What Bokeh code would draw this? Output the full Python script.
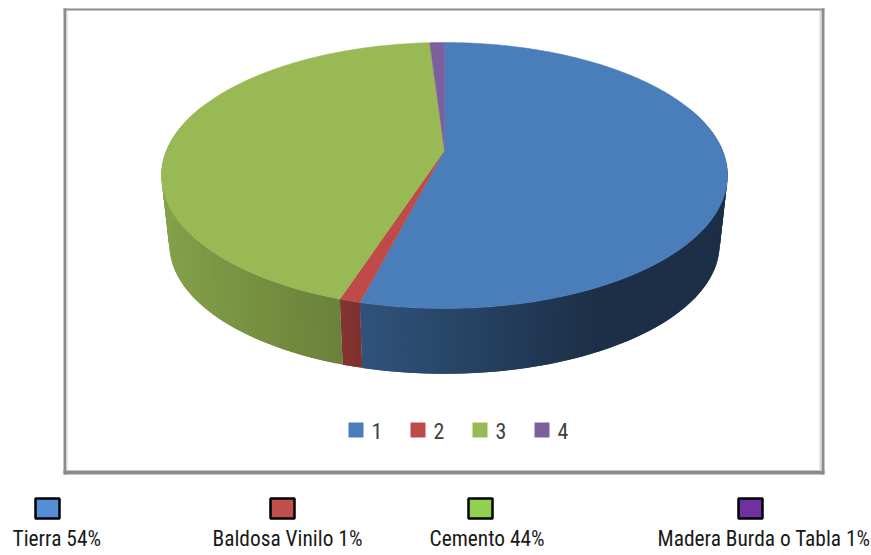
import math
import numpy as np
from bokeh.embed import file_html
from bokeh.models import Range1d
from bokeh.plotting import figure
from bokeh.resources import INLINE
from bokeh.core.properties import value

# ---- data -------------------------------------------------------------
series_ids = ["1", "2", "3", "4"]
shares = [54, 1, 44, 1]
slice_colors = ["#4a7ebb", "#be4b48", "#98b954", "#7d5fa0"]
outer_labels = ["Tierra 54%", "Baldosa Vinilo 1%", "Cemento 44%", "Madera Burda o Tabla 1%"]
outer_colors = ["#558ed5", "#c0504d", "#92d050", "#7030a0"]

# ---- layout (page pixels) ----------------------------------------------
W, H = 871, 555
FONT = "Roboto Condensed"
CX, APEX_Y, A, B, K = 444.0, 150.0, 278.0, 128.3, 0.188
BASE_SCALE, BASE_APEX_Y = 0.972, 219.7
shade_x = [161, 340, 360, 600, 728]
shade_f = [0.87, 0.70, 0.66, 0.38, 0.38]

p = figure(width=W, height=H, output_backend="svg", toolbar_location=None,
           x_range=Range1d(0, W), y_range=Range1d(H, 0),
           min_border=0, outline_line_color=None, background_fill_color="white")
p.axis.visible = False
p.grid.visible = False


def project(theta, scale=1.0, apex=APEX_Y):
    u, v = np.sin(theta), np.cos(theta)
    w = 1 + K * v
    return CX + scale * A * u / w, apex - scale * B * v / w


def darken(hex_color, f):
    r, g, b = (int(hex_color[i:i + 2], 16) for i in (1, 3, 5))
    return "#%02x%02x%02x" % (int(r * f), int(g * f), int(b * f))


# frame of the embedded chart
p.quad(left=[63, 63, 63, 821], right=[66, 824, 824, 824],
       top=[8, 8, 470, 8], bottom=[474, 10, 474, 474],
       fill_color="#8c8c8c", line_color=None)
p.quad(left=[66, 819], right=[67, 821], top=[10, 10], bottom=[470, 470],
       fill_color="#d9d9d9", line_color=None)

# slice boundaries
edges = np.cumsum([0] + shares) / sum(shares) * 2 * math.pi

# side wall: overlapping strips so no seams appear between them
step = math.radians(1.2)
xs, ys, cols = [], [], []
for i, col in enumerate(slice_colors):
    n = max(2, int(round((edges[i + 1] - edges[i]) / step)))
    th = np.linspace(edges[i], edges[i + 1], n + 1)
    for j in range(n):
        a, b = th[j], th[min(j + 2, n)]
        if math.cos((th[j] + th[j + 1]) / 2) > 0.35:
            continue
        x1, y1 = project(a)
        x2, y2 = project(b)
        x3, y3 = project(b, BASE_SCALE, BASE_APEX_Y)
        x4, y4 = project(a, BASE_SCALE, BASE_APEX_Y)
        xs.append([x1, x2, x3, x4])
        ys.append([y1, y2, y3, y4])
        xm = float(project((th[j] + th[j + 1]) / 2)[0])
        cols.append(darken(col, float(np.interp(xm, shade_x, shade_f))))
p.patches(xs, ys, fill_color=cols, line_color=None)

# top face
txs, tys = [], []
for i in range(len(shares)):
    n = max(3, int(round((edges[i + 1] - edges[i]) / math.radians(0.5))))
    th = np.linspace(edges[i], edges[i + 1], n + 1)
    x, y = project(th)
    txs.append([CX] + list(x))
    tys.append([APEX_Y] + list(y))
p.patches(txs, tys, fill_color=slice_colors, line_color=slice_colors, line_width=0.5)

# inner legend
in_left = [348, 410, 472, 534]
p.quad(left=in_left, right=[v + 15 for v in in_left], top=[422] * 4, bottom=[437] * 4,
       fill_color=slice_colors, line_color=None)
p.text([v + 23 for v in in_left], [430] * 4, text=series_ids, text_font=value(FONT),
       text_font_size="22px", text_color="#404040", text_baseline="middle", text_align="left")

# outer legend
sw_left = [35, 270, 468, 738]
p.quad(left=sw_left, right=[v + 24 for v in sw_left], top=[498] * 4, bottom=[518] * 4,
       fill_color=outer_colors, line_color="black", line_width=2.5)
txt_left = [12, 212, 429, 657]
p.text(txt_left, [538] * 4, text=outer_labels, text_font=value(FONT),
       text_font_size="21.4px", text_color="#1a1a1a", text_baseline="middle", text_align="left")

open("out.html", "w").write(file_html(p, INLINE))
